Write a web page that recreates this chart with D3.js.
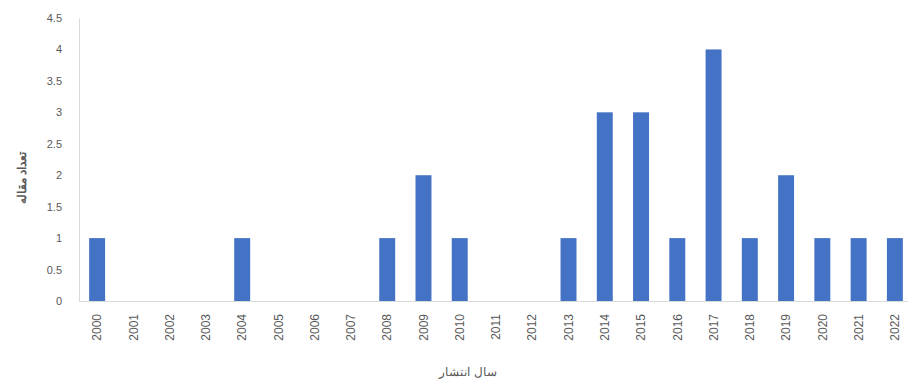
<!DOCTYPE html>
<html>
<head>
<meta charset="utf-8">
<script src="https://cdn.jsdelivr.net/npm/d3@7"></script>
<style>
  body { margin: 0; background: #fff; }
  text { font-family: "Liberation Sans", Arial, sans-serif; }
</style>
</head>
<body>
<div class="container"></div>
<script>
var years = ["2000","2001","2002","2003","2004","2005","2006","2007","2008","2009","2010","2011",
  "2012","2013","2014","2015","2016","2017","2018","2019","2020","2021","2022"];
var counts = [1,0,0,0,1,0,0,0,1,2,1,0,0,1,3,3,1,4,1,2,1,1,1];
var yTicks = [0,0.5,1,1.5,2,2.5,3,3.5,4,4.5];

const WIDTH = 912;
const HEIGHT = 383;
const LEFT = 79, RIGHT = 913, TOP = 18, BOTTOM = 301;

var translate = function(x, y){
  return "translate(" + x + "," + y + ")";
};

var xScale = d3.scaleBand()
  .domain(years)
  .range([LEFT, RIGHT])
  .paddingInner(0.56)
  .paddingOuter(0.28);

var yScale = d3.scaleLinear()
  .domain([0, 4.5])
  .range([BOTTOM, TOP]);

var svg = d3.select('.container').append('svg')
  .attr('width', WIDTH)
  .attr('height', HEIGHT);

// bars
svg.append('g').selectAll('rect').data(counts)
  .enter().append('rect')
  .attr('fill', '#4472c4')
  .attr('x', function(d, i){ return xScale(years[i]); })
  .attr('width', xScale.bandwidth())
  .attr('y', function(d){ return yScale(d); })
  .attr('height', function(d){ return BOTTOM - yScale(d); });

// y axis
var yAxis = d3.axisLeft(yScale).tickValues(yTicks).tickSize(0).tickPadding(17)
  .tickFormat(function(d){ return String(d); });
var gy = svg.append('g').attr('transform', translate(LEFT, 0)).call(yAxis);
gy.select('.domain').attr('stroke', '#d9d9d9');
gy.selectAll('text').attr('fill', '#595959').style('font-size', '11px');

// x axis
var xAxis = d3.axisBottom(xScale).tickSize(0).tickPadding(0);
var gx = svg.append('g').attr('transform', translate(0, BOTTOM)).call(xAxis);
gx.select('.domain').attr('stroke', '#d9d9d9').attr('d', 'M' + LEFT + ',0.5H' + (RIGHT - 5));
gx.selectAll('text')
  .attr('fill', '#595959')
  .style('font-size', '12px')
  .attr('text-anchor', 'end')
  .attr('dy', '0.35em')
  .attr('transform', 'translate(0,13) rotate(-90)')
  .attr('x', 0).attr('y', 0);

// axis titles
svg.append('text')
  .attr('transform', translate(22, 178) + ' rotate(-90)')
  .attr('text-anchor', 'middle')
  .attr('dy', '0.35em')
  .attr('fill', '#595959')
  .style('font-size', '12px')
  .style('font-weight', 'bold')
  .text('تعداد مقاله');

svg.append('text')
  .attr('x', 468).attr('y', 372)
  .attr('text-anchor', 'middle')
  .attr('dy', '0.35em')
  .attr('fill', '#595959')
  .style('font-size', '12px')
  .text('سال انتشار');
</script>
</body>
</html>
